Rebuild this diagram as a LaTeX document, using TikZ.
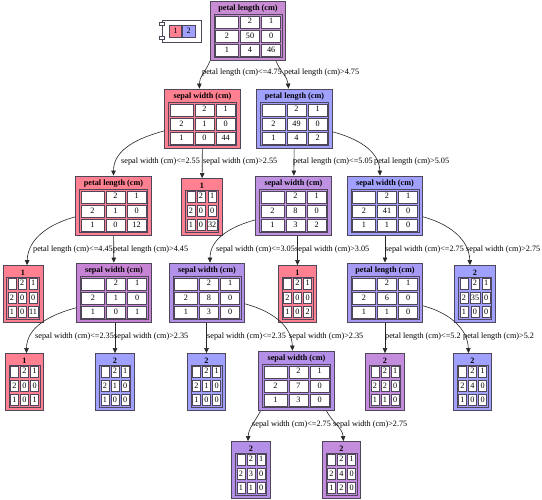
\documentclass[tikz,border=0pt]{standalone}
\usepackage{fontspec}
\setmainfont{Liberation Serif}
\usepackage{xcolor}
\usetikzlibrary{arrows.meta,positioning,matrix,fit,backgrounds}

\definecolor{pinkfill}{RGB}{255,128,144}
\definecolor{bluefill}{RGB}{160,160,255}
\definecolor{rootfill}{RGB}{200,140,210}
\definecolor{mixc}{RGB}{190,145,225}
\definecolor{mixd}{RGB}{200,132,212}
\definecolor{mixe}{RGB}{178,145,232}
\definecolor{mixf}{RGB}{165,155,245}
\definecolor{mixg}{RGB}{180,143,232}
\definecolor{mixh}{RGB}{195,140,220}
\definecolor{boxline}{RGB}{80,70,90}

% box = bold head + 3x3 count table
\newcommand{\treenode}[9]{%
  \matrix[#5] (#1-t) at (#2) {
     \& 2 \& 1 \\
    2 \& #6 \& #7 \\
    1 \& #8 \& #9 \\
  };
  \node[headtext, above=0.5pt of #1-t] (#1-h) {#4};
  \begin{scope}[on background layer]
    \node[nodebox, fill=#3, fit=(#1-h)(#1-t)] (#1) {};
  \end{scope}
}

\begin{document}
\begin{tikzpicture}
    [
    x=1pt, y=1pt
    , every node/.style = {font=\fontsize{8.2}{9.5}\selectfont}
    , headtext/.style = {font=\fontsize{8.2}{9.5}\selectfont\bfseries, inner sep=1pt}
    , nodebox/.style = {draw=boxline, line width=0.7pt, inner xsep=3.5pt, inner ysep=3pt}
    , cell/.style = {draw=boxline, line width=0.6pt, fill=white, inner sep=1pt, text height=5.8pt, text depth=1.6pt}
    , tbl/.style = {matrix of nodes, ampersand replacement=\&, nodes in empty cells, draw=boxline, line width=0.6pt, inner sep=1pt, column sep=1.5pt}
    , splittbl/.style = {tbl, row sep=1.5pt, nodes={cell, minimum height=12pt, minimum width=19pt}, column 1/.style={nodes={minimum width=23pt}}}
    , leaftbl/.style = {tbl, row sep=2.5pt, nodes={cell, minimum height=11pt, minimum width=8pt}}
    , branch/.style = {draw=black!85, line width=0.6pt, -{Triangle[length=5pt,width=4.5pt]}}
    , cond/.style = {anchor=west, inner sep=0pt}
    , keybox/.style = {draw=boxline, line width=0.6pt, minimum width=12.5pt, minimum height=12pt, inner sep=0pt}
    ]
\useasboundingbox (0,0) rectangle (542,-500);

% legend
\node[draw=boxline, line width=0.6pt, minimum width=39pt, minimum height=22pt] (legend) at (181.5,-31) {};
\node[keybox, fill=pinkfill, anchor=east] (key1) at ([xshift=0.5pt]legend.center) {1};
\node[keybox, fill=bluefill, anchor=west] (key2) at ([xshift=0.5pt]legend.center) {2};
\draw[draw=boxline, line width=0.6pt, fill=white] ([xshift=-2.5pt,yshift=-3pt]legend.north west) rectangle ++(5pt,-3pt);
\draw[draw=boxline, line width=0.6pt, fill=white] ([xshift=-2.5pt,yshift=3pt]legend.south west) rectangle ++(5pt,3pt);

% tree
\treenode{root}{248,-36}{rootfill}{petal length (cm)}{splittbl}{50}{0}{4}{46}
\treenode{l}{202.5,-124}{pinkfill}{sepal width (cm)}{splittbl}{1}{0}{0}{44}
\treenode{r}{294.5,-124}{bluefill}{petal length (cm)}{splittbl}{49}{0}{4}{2}
\treenode{ll}{113.5,-211}{pinkfill}{petal length (cm)}{splittbl}{1}{0}{0}{12}
\treenode{lr}{202,-211}{pinkfill}{1}{leaftbl}{0}{0}{0}{32}
\treenode{rl}{293.5,-211}{mixc}{sepal width (cm)}{splittbl}{8}{0}{3}{2}
\treenode{rr}{385,-211}{bluefill}{sepal width (cm)}{splittbl}{41}{0}{1}{0}
\treenode{lll}{23,-298}{pinkfill}{1}{leaftbl}{0}{0}{0}{11}
\treenode{llr}{114,-298}{mixd}{sepal width (cm)}{splittbl}{1}{0}{0}{1}
\treenode{rll}{207,-298}{mixe}{sepal width (cm)}{splittbl}{8}{0}{3}{0}
\treenode{rlr}{297.5,-298}{pinkfill}{1}{leaftbl}{0}{0}{0}{2}
\treenode{rrl}{385,-298}{mixf}{petal length (cm)}{splittbl}{6}{0}{1}{0}
\treenode{rrr}{475,-298}{bluefill}{2}{leaftbl}{35}{0}{0}{0}
\treenode{llrl}{24.5,-386}{pinkfill}{1}{leaftbl}{0}{0}{0}{1}
\treenode{llrr}{115,-386}{bluefill}{2}{leaftbl}{1}{0}{0}{0}
\treenode{rlll}{206.5,-386}{bluefill}{2}{leaftbl}{1}{0}{0}{0}
\treenode{rllr}{296.5,-386}{mixg}{sepal width (cm)}{splittbl}{7}{0}{3}{0}
\treenode{rrll}{385,-386}{mixh}{2}{leaftbl}{2}{0}{1}{0}
\treenode{rrlr}{472.5,-386}{bluefill}{2}{leaftbl}{4}{0}{0}{0}
\treenode{rllrl}{251,-474}{mixg}{2}{leaftbl}{3}{0}{1}{0}
\treenode{rllrr}{341.5,-474}{mixh}{2}{leaftbl}{4}{0}{2}{0}

% branches
\draw[branch] (root.south west) to[out=-112,in=92] ([xshift=-3pt]l.north);
\draw[branch] ([xshift=-10pt]root.south east) to[out=-68,in=95] ([xshift=-6pt]r.north);
\draw[branch] ([yshift=-12pt]l.west) to[out=195,in=90] (ll.north);
\draw[branch] (l) -- (lr);
\draw[branch] (r) -- (rl);
\draw[branch] ([yshift=-13pt]r.east) to[out=-15,in=92] ([xshift=-5pt]rr.north);
\draw[branch] ([yshift=-11pt]ll.west) to[out=195,in=88] ([xshift=4pt]lll.north);
\draw[branch] (ll) -- (llr);
\draw[branch] ([yshift=-14pt]rl.west) to[out=195,in=90] ([xshift=3pt]rll.north);
\draw[branch] (rlr.north |- rl.south) -- (rlr);
\draw[branch] (rr) -- (rrl);
\draw[branch] ([yshift=-11pt]rr.east) to[out=-15,in=92] ([xshift=-5pt]rrr.north);
\draw[branch] ([yshift=-15pt]llr.west) to[out=195,in=90] ([xshift=2pt]llrl.north);
\draw[branch] (llrr.north |- llr.south) -- (llrr);
\draw[branch] (rlll.north |- rll.south) -- (rlll);
\draw[branch] ([yshift=-11pt]rll.east) to[out=-15,in=92] ([xshift=-4pt]rllr.north);
\draw[branch] (rrl) -- (rrll);
\draw[branch] ([yshift=-13pt]rrl.east) to[out=-15,in=92] ([xshift=-4pt]rrlr.north);
\draw[branch] ([xshift=2pt]rllr.south west) to[out=-118,in=88] ([xshift=-3pt]rllrl.north);
\draw[branch] ([xshift=-8pt]rllr.south east) to[out=-62,in=95] ([xshift=2pt]rllrr.north);

% split conditions
\node[cond] (c1) at (202,-73) {petal length (cm)<=4.75};
\node[cond] (c2) at (284,-73) {petal length (cm)>4.75};
\node[cond] (c3) at (121,-162) {sepal width (cm)<=2.55};
\node[cond] (c4) at (203,-162) {sepal width (cm)>2.55};
\node[cond] (c5) at (293,-162) {petal length (cm)<=5.05};
\node[cond] (c6) at (374,-162) {petal length (cm)>5.05};
\node[cond] (c7) at (33,-250) {petal length (cm)<=4.45};
\node[cond] (c8) at (113,-250) {petal length (cm)>4.45};
\node[cond] (c9) at (216,-250) {sepal width (cm)<=3.05};
\node[cond] (c10) at (295,-250) {sepal width (cm)>3.05};
\node[cond] (c11) at (385,-250) {sepal width (cm)<=2.75};
\node[cond] (c12) at (466,-250) {sepal width (cm)>2.75};
\node[cond] (c13) at (35,-337) {sepal width (cm)<=2.35};
\node[cond] (c14) at (114,-337) {sepal width (cm)>2.35};
\node[cond] (c15) at (207,-337) {sepal width (cm)<=2.35};
\node[cond] (c16) at (289,-337) {sepal width (cm)>2.35};
\node[cond] (c17) at (385,-337) {petal length (cm)<=5.2};
\node[cond] (c18) at (463,-337) {petal length (cm)>5.2};
\node[cond] (c19) at (252,-425) {sepal width (cm)<=2.75};
\node[cond] (c20) at (333,-425) {sepal width (cm)>2.75};
\end{tikzpicture}
\end{document}
